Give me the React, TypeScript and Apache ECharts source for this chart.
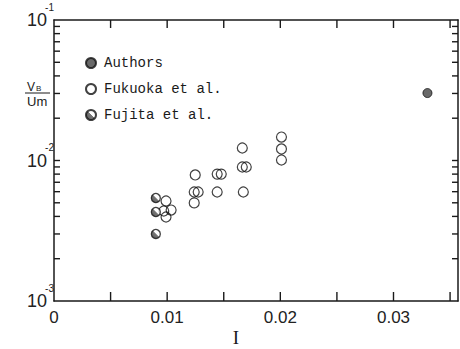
import React, { useEffect, useRef } from "react";
import * as echarts from "echarts";

// Data
const authorsX = [0.033];
const authorsY = [0.0302];

const fukuokaX = [0.0099, 0.0097, 0.01035, 0.0099, 0.01248, 0.01442, 0.01478, 0.01239, 0.01274, 0.01442, 0.01239, 0.01664, 0.01664, 0.01699, 0.01673, 0.0201, 0.0201, 0.0201];
const fukuokaY = [0.00515, 0.00437, 0.00444, 0.00396, 0.00789, 0.008, 0.008, 0.00597, 0.00597, 0.00597, 0.00499, 0.01227, 0.00899, 0.00899, 0.00597, 0.01469, 0.01208, 0.01008];

const fujitaX = [0.009, 0.009, 0.009];
const fujitaY = [0.00541, 0.0043, 0.003];

const xLabelValues = [0, 0.01, 0.02, 0.03];
const xLabelTexts = ["0", "0.01", "0.02", "0.03"];
const xTickValues = [0.005, 0.01, 0.015, 0.02, 0.025, 0.03, 0.035];
const yLabelValues = [0.001, 0.01, 0.1];
const yTickValues = [
  0.002, 0.003, 0.004, 0.005, 0.006, 0.007, 0.008, 0.009,
  0.01, 0.02, 0.03, 0.04, 0.05, 0.06, 0.07, 0.08, 0.09,
];
const seriesNames = ["Authors", "Fukuoka et al.", "Fujita et al."];

const X_MIN = 0;
const X_MAX = 0.0357;
const Y_MIN = 0.001;
const Y_MAX = 0.1;

const zip = (xs: number[], ys: number[]) => xs.map((x, i) => [x, ys[i]]);

export default function App() {
  const ref = useRef<HTMLDivElement>(null);
  useEffect(() => {
    if (!ref.current) return;
    const chart = echarts.init(ref.current, undefined, { renderer: "svg" });
    const ink = "#1a1a1a";
    const mkLine = () => ({ show: true, onZero: false, lineStyle: { color: ink, width: 1.5 } });
    const fujitaFill = new echarts.graphic.LinearGradient(0, 1, 1, 0, [
      { offset: 0, color: "#333" },
      { offset: 0.5, color: "#555" },
      { offset: 0.52, color: "#fff" },
      { offset: 1, color: "#fff" },
    ]);
    // tick marks: [x, y, side] with side 0 bottom, 1 top, 2 left, 3 right
    const tickData: number[][] = [];
    xTickValues.forEach((v) => {
      tickData.push([v, Y_MIN, 0]);
      tickData.push([v, Y_MAX, 1]);
    });
    yTickValues.forEach((v) => {
      tickData.push([X_MIN, v, 2]);
      tickData.push([X_MAX, v, 3]);
    });
    chart.setOption({
      animation: false,
      backgroundColor: "#fff",
      grid: { left: 54, right: 2, top: 20, bottom: 48, outerBoundsMode: "none" },
      legend: {
        orient: "vertical",
        left: 80,
        top: 51,
        itemGap: 12,
        itemWidth: 10,
        itemHeight: 10,
        data: seriesNames,
        textStyle: { fontFamily: "Liberation Mono", fontSize: 14, color: ink, padding: [0, 0, 0, 3] },
      },
      xAxis: [
        {
          type: "value",
          min: X_MIN,
          max: X_MAX,
          interval: 0.005,
          axisLine: mkLine(),
          axisTick: { show: false },
          splitLine: { show: false },
          axisLabel: {
            formatter: (v: number) => {
              const i = xLabelValues.findIndex((x) => Math.abs(x - v) < 1e-9);
              return i >= 0 ? xLabelTexts[i] : "";
            },
            fontFamily: "Liberation Sans",
            fontSize: 17,
            color: "#222",
            margin: 8,
          },
        },
        {
          type: "value",
          position: "top",
          min: X_MIN,
          max: X_MAX,
          interval: 0.005,
          axisLine: mkLine(),
          axisTick: { show: false },
          splitLine: { show: false },
          axisLabel: { show: false },
        },
      ],
      yAxis: [
        {
          type: "log",
          logBase: 10,
          min: Y_MIN,
          max: Y_MAX,
          axisLine: mkLine(),
          axisTick: { show: false },
          splitLine: { show: false },
          axisLabel: {
            customValues: yLabelValues,
            margin: 0,
            padding: [0, 0, 8, 0],
            formatter: (v: number) => `{s|${Math.round(Math.log10(v))}}\n{b|10}`,
            rich: {
              s: { fontFamily: "Liberation Sans", fontSize: 10, lineHeight: 8, color: "#222", align: "right" },
              b: { fontFamily: "Liberation Sans", fontSize: 18, lineHeight: 18, color: "#222", padding: [0, 7, 0, 0], align: "right" },
            },
          },
        },
        {
          type: "log",
          logBase: 10,
          min: Y_MIN,
          max: Y_MAX,
          position: "right",
          axisLine: mkLine(),
          axisTick: { show: false },
          splitLine: { show: false },
          axisLabel: { show: false },
        },
      ],
      series: [
        {
          name: "ticks",
          type: "custom",
          silent: true,
          clip: false,
          xAxisIndex: 0,
          yAxisIndex: 0,
          data: tickData,
          renderItem: (_params: any, api: any) => {
            const p = api.coord([api.value(0), api.value(1)]);
            const side = api.value(2);
            let dx = 0;
            let dy = 0;
            if (side === 0) dy = -9;
            else if (side === 1) dy = 8;
            else if (side === 2) dx = 6;
            else dx = -6;
            return {
              type: "line",
              shape: { x1: p[0], y1: p[1], x2: p[0] + dx, y2: p[1] + dy },
              style: { stroke: ink, lineWidth: 1.4 },
            };
          },
        },
        {
          name: seriesNames[0],
          type: "scatter",
          symbol: "circle",
          symbolSize: 9,
          data: zip(authorsX, authorsY),
          itemStyle: { color: "#444", borderColor: "#111", borderWidth: 1 },
        },
        {
          name: seriesNames[1],
          type: "scatter",
          symbol: "circle",
          symbolSize: 10,
          data: zip(fukuokaX, fukuokaY),
          itemStyle: { color: "rgba(255,255,255,0)", borderColor: "#111", borderWidth: 1.2 },
        },
        {
          name: seriesNames[2],
          type: "scatter",
          symbol: "circle",
          symbolSize: 9,
          data: zip(fujitaX, fujitaY),
          itemStyle: { color: fujitaFill, borderColor: "#111", borderWidth: 1.3 },
        },
      ],
      graphic: [
        { type: "text", x: 27, y: 81, style: { text: "V", fontFamily: "Liberation Sans", fontSize: 12, fill: ink } },
        { type: "text", x: 36, y: 84, style: { text: "B", fontFamily: "Liberation Sans", fontSize: 8, fill: ink } },
        { type: "line", shape: { x1: 25, y1: 93, x2: 50, y2: 93 }, style: { stroke: ink, lineWidth: 1 } },
        { type: "text", x: 27, y: 95, style: { text: "Um", fontFamily: "Liberation Sans", fontSize: 13, fill: ink } },
        { type: "text", x: 236, y: 337, style: { text: "I", fontFamily: "Liberation Serif", fontSize: 19, fill: ink, align: "center", verticalAlign: "middle" } },
      ],
    });
    return () => chart.dispose();
  }, []);
  return <div ref={ref} style={{ position: "fixed", left: 0, top: 0, width: 460, height: 349 }} />;
}
